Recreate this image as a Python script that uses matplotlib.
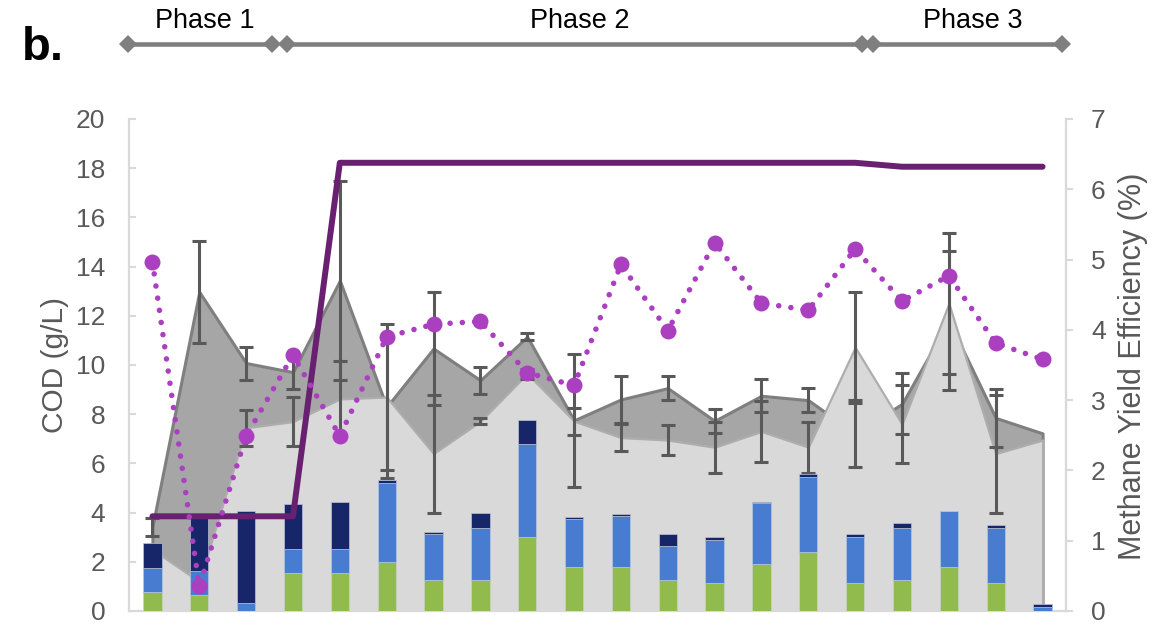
import matplotlib.pyplot as plt
import numpy as np

plt.rcParams['font.family'] = ['Liberation Sans', 'DejaVu Sans']

# 20 samples along the run, no x labels in the original
samples = np.arange(20)

# stacked bars (left axis, g/L)
green = [0.78, 0.65, 0.0, 1.53, 1.53, 2.0, 1.28, 1.28, 3.0, 1.77,
         1.77, 1.28, 1.15, 1.9, 2.39, 1.15, 1.28, 1.77, 1.15, 0.0]
blue = [0.98, 0.99, 0.31, 0.98, 0.98, 3.21, 1.85, 2.08, 3.79, 1.97,
        2.08, 1.35, 1.73, 2.47, 3.07, 1.87, 2.11, 2.31, 2.24, 0.17]
navy = [1.0, 2.2, 3.77, 1.83, 1.93, 0.1, 0.1, 0.61, 0.97, 0.1,
        0.11, 0.49, 0.12, 0.07, 0.11, 0.09, 0.2, 0.0, 0.09, 0.1]

# area series with error bars (left axis)
cod_dark = [3.43, 12.97, 10.08, 9.71, 13.43, 8.3, 10.67, 9.38, 11.15, 7.75,
            8.6, 9.06, 7.73, 8.75, 8.57, 7.22, 8.42, 11.8, 7.85, 7.22]
cod_dark_err = [0.37, 2.08, 0.67, 0.68, 4.05, 2.88, 2.28, 0.55, 0.14, 2.7,
                0.97, 0.49, 0.49, 0.67, 0.49, 1.36, 1.24, 2.82, 1.17, 0]
cod_light = [2.5, 1.2, 7.45, 7.7, 8.62, 8.7, 6.4, 7.71, 9.65, 7.72,
             7.05, 6.95, 6.66, 7.3, 6.66, 10.72, 7.6, 12.5, 6.4, 6.95]
cod_light_err = [0, 0, 0.74, 0.98, 1.53, 2.95, 2.4, 0.12, 0.2, 0.55,
                 0.55, 0.61, 1.04, 1.24, 1.04, 2.25, 1.58, 2.88, 2.4, 0]

# solid purple line (left axis)
loading = [3.85, 3.85, 3.85, 3.85, 18.22, 18.22, 18.22, 18.22, 18.22, 18.22,
           18.22, 18.22, 18.22, 18.22, 18.22, 18.22, 18.06, 18.06, 18.06, 18.06]

# methane yield efficiency (right axis, %)
yield_eff = [4.97, 0.35, 2.49, 3.64, 2.49, 3.90, 4.08, 4.12, 3.39, 3.21,
             4.93, 3.99, 5.24, 4.38, 4.28, 5.15, 4.41, 4.77, 3.81, 3.58]

phases = ['Phase 1', 'Phase 2', 'Phase 3']

W, H = 1165, 634
fig = plt.figure(figsize=(W / 100, H / 100), dpi=100)
ax = fig.add_axes([129 / W, 23 / H, 937 / W, 492 / H])

gray_txt = '#595959'
axis_col = '#D9D9D9'

ax.fill_between(samples, 0, cod_dark, facecolor='#A6A6A6', edgecolor='#7F7F7F',
                linewidth=2.2, zorder=1)
ax.fill_between(samples, 0, cod_light, facecolor='#D9D9D9', edgecolor='#ADADAD',
                linewidth=1.6, zorder=2)

for vals, errs in [(cod_dark, cod_dark_err), (cod_light, cod_light_err)]:
    vals = np.array(vals)
    errs = np.array(errs)
    m = errs > 0
    ax.errorbar(samples[m], vals[m], yerr=errs[m], fmt='none', ecolor='#595959',
                elinewidth=2.2, capsize=5, capthick=2.2, zorder=3)

bw = 0.39
bot2 = np.array(green) + np.array(blue)
ax.bar(samples, green, bw, color='#91BB4C', edgecolor='#C9D3C0', linewidth=0.5, zorder=4)
ax.bar(samples, blue, bw, bottom=green, color='#487CD0', edgecolor='#B8C6E0',
       linewidth=0.5, zorder=4)
ax.bar(samples, navy, bw, bottom=bot2, color='#172668', edgecolor='#B8C0D8',
       linewidth=0.5, zorder=4)

ax.plot(samples, loading, color='#6A2070', linewidth=4.3, solid_capstyle='round',
        solid_joinstyle='round', zorder=6)

ax.set_xlim(-0.5, 19.5)
ax.set_ylim(0, 20)
ax.set_yticks(range(0, 21, 2))
ax.set_xticks([])
ax.tick_params(axis='y', direction='in', length=5, width=1.5, color=axis_col,
               labelsize=19, labelcolor=gray_txt, pad=17)
for s in ['top', 'right']:
    ax.spines[s].set_visible(False)
for s in ['left', 'bottom']:
    ax.spines[s].set_color(axis_col)
    ax.spines[s].set_linewidth(1.6)

ax2 = ax.twinx()
ax2.plot(samples, yield_eff, color='#AA40BF', linewidth=4.0,
         linestyle=(0, (0.01, 2.2)), dash_capstyle='round',
         marker='o', markersize=11.5, markeredgewidth=0, zorder=7)
ax2.set_ylim(0, 7)
ax2.set_yticks(range(0, 8))
ax2.tick_params(axis='y', direction='out', length=5, width=1.5, color=axis_col,
                labelsize=19, labelcolor=gray_txt, pad=13)
for s in ['top', 'left', 'bottom']:
    ax2.spines[s].set_visible(False)
ax2.spines['right'].set_color(axis_col)
ax2.spines['right'].set_linewidth(1.6)

fig.text(55 / W, 1 - 365 / H, 'COD (g/L)', rotation=90, ha='center', va='center',
         fontsize=21.5, color=gray_txt)
fig.text(1133 / W, 1 - 366 / H, 'Methane Yield Efficiency (%)', rotation=90,
         ha='center', va='center', fontsize=22, color=gray_txt)

# phase arrows above the plot
fig.text(22 / W, 1 - 60 / H, 'b.', fontsize=34, fontweight='bold', color='black',
         ha='left', va='baseline')
spans = [(128, 272), (287, 862), (873, 1062)]
for name, (x0, x1) in zip(phases, spans):
    fig.add_artist(plt.Line2D([x0 / W, x1 / W], [1 - 44 / H, 1 - 44 / H],
                              color='#7F7F7F', linewidth=3.3, marker='D',
                              markersize=9.5, markeredgewidth=0))
    fig.text((x0 + x1) / 2 / W + 5 / W, 1 - 28 / H, name, ha='center',
             va='baseline', fontsize=19.5, color='black')

fig.savefig('out.png', dpi=100)
